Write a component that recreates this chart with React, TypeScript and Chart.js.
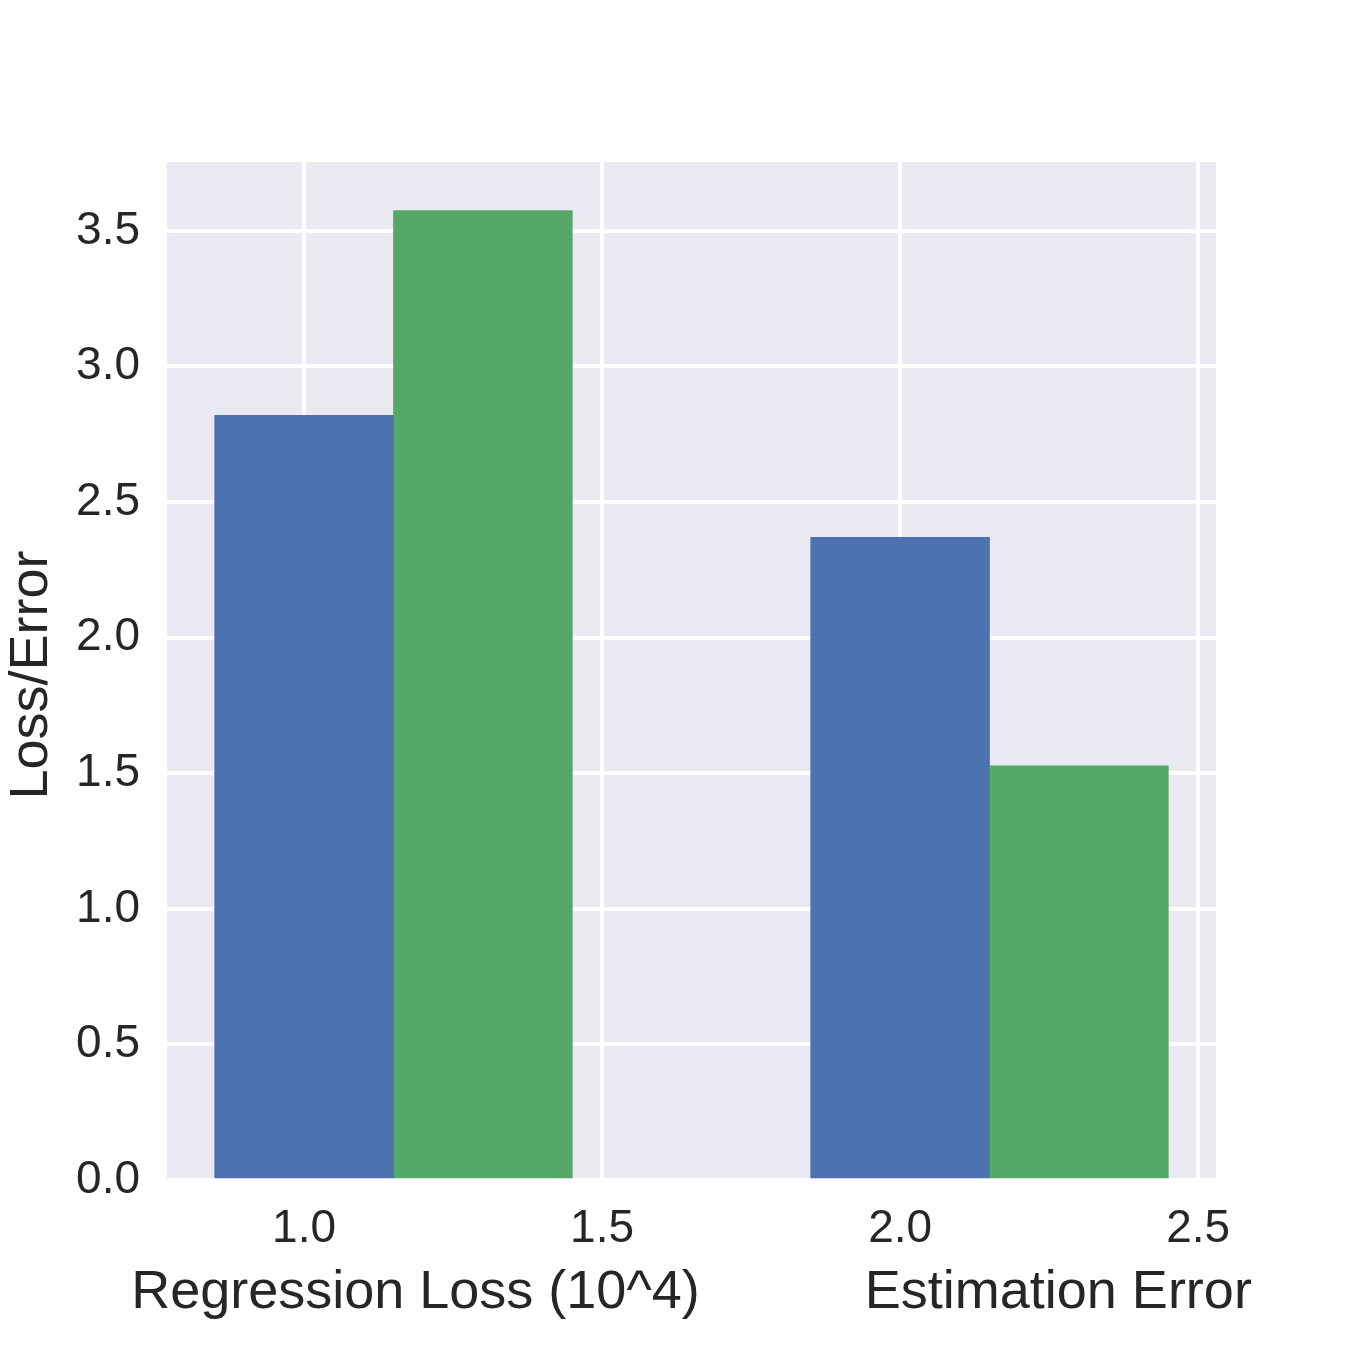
import React, { useEffect, useRef } from "react";
import { Chart, registerables } from "chart.js";

Chart.register(...registerables);

const X_TICKS = [1.0, 1.5, 2.0, 2.5];
const Y_TICKS = [0, 0.5, 1.0, 1.5, 2.0, 2.5, 3.0, 3.5];
const BLUE_X = [1.0, 2.0];
const BLUE_Y = [2.82, 2.37];
const GREEN_X = [1.3, 2.3];
const GREEN_Y = [3.575, 1.527];
const X_LABEL = "Regression Loss (10^4)           Estimation Error";
const Y_LABEL = "Loss/Error";

const FONT = "'Liberation Sans', Arial, sans-serif";
const TEXT = "#262626";

export default function App() {
  const ref = useRef<HTMLCanvasElement | null>(null);

  useEffect(() => {
    if (!ref.current) return;
    const bgPlugin = {
      id: "bg",
      beforeDraw(chart: any) {
        const { ctx, chartArea } = chart;
        ctx.save();
        ctx.fillStyle = "#EAEAF2";
        ctx.fillRect(chartArea.left, chartArea.top, chartArea.right - chartArea.left, chartArea.bottom - chartArea.top);
        ctx.restore();
      },
      afterDraw(chart: any) {
        const { ctx, chartArea } = chart;
        ctx.save();
        ctx.fillStyle = TEXT;
        ctx.font = `54px ${FONT}`;
        ctx.textAlign = "center";
        ctx.textBaseline = "middle";
        ctx.fillText(X_LABEL, (chartArea.left + chartArea.right) / 2, chart.height - 32.4 - 24);
        ctx.translate(32.6, (chartArea.top + chartArea.bottom) / 2 + 4);
        ctx.rotate(-Math.PI / 2);
        ctx.fillText(Y_LABEL, 0, 0);
        ctx.restore();
      },
    };

    const chart = new Chart(ref.current, {
      type: "bar",
      data: {
        datasets: [
          {
            label: "blue",
            data: BLUE_X.map((x, i) => ({ x, y: BLUE_Y[i] })),
            backgroundColor: "#4C72B0",
            borderWidth: 0,
          },
          {
            label: "green",
            data: GREEN_X.map((x, i) => ({ x, y: GREEN_Y[i] })),
            backgroundColor: "#55A868",
            borderWidth: 0,
          },
        ],
      },
      options: {
        animation: false,
        responsive: false,
        devicePixelRatio: 1,
        grouped: false,
        categoryPercentage: 1,
        barPercentage: 1,
        layout: { padding: { top: 162, right: 134, left: 0, bottom: 0 } },
        plugins: { legend: { display: false }, tooltip: { enabled: false } },
        scales: {
          x: {
            type: "linear",
            min: 0.77,
            max: 2.53,
            offset: false,
            afterBuildTicks: (s: any) => {
              s.ticks = X_TICKS.map((v) => ({ value: v }));
            },
            afterFit: (s: any) => {
              s.height = 170;
            },
            grid: { color: "#FFFFFF", lineWidth: 4, drawTicks: false, offset: false },
            border: { display: false },
            ticks: {
              color: TEXT,
              font: { family: FONT, size: 46, lineHeight: 1.2 },
              padding: 22,
              maxRotation: 0,
              autoSkip: false,
              callback: (v: any) => Number(v).toFixed(1),
            },
          },
          y: {
            type: "linear",
            min: 0,
            max: 3.754,
            afterBuildTicks: (s: any) => {
              s.ticks = Y_TICKS.map((v) => ({ value: v }));
            },
            afterFit: (s: any) => {
              s.width = 167;
            },
            grid: { color: "#FFFFFF", lineWidth: 4, drawTicks: false },
            border: { display: false },
            ticks: {
              color: TEXT,
              font: { family: FONT, size: 46, lineHeight: 1.2 },
              padding: 27,
              autoSkip: false,
              callback: (v: any) => Number(v).toFixed(1),
            },
          },
        },
      } as any,
      plugins: [bgPlugin],
    });
    return () => chart.destroy();
  }, []);

  return (
    <div style={{ position: "fixed", left: 0, top: 0, width: 1350, height: 1350, background: "#fff" }}>
      <canvas ref={ref} width={1350} height={1350} style={{ display: "block" }} />
    </div>
  );
}
